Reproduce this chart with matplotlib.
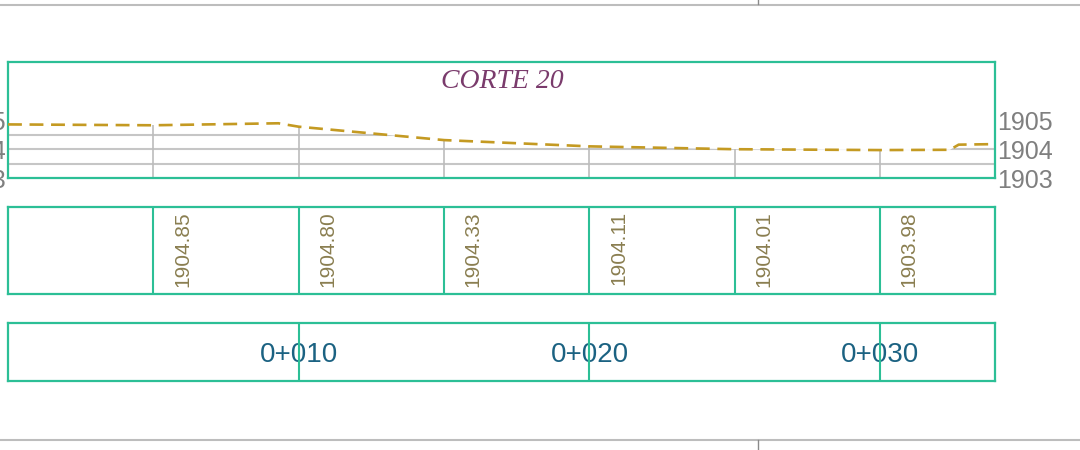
import matplotlib
matplotlib.use("Agg")
import matplotlib.pyplot as plt
import numpy as np
from matplotlib.lines import Line2D

plt.rcParams['font.family'] = ['Liberation Sans', 'DejaVu Sans']
plt.rcParams['lines.scale_dashes'] = False

# Ground profile (distance along section in m, elevation in m)
profile_x = [0.0, 5.0, 9.3, 10.0, 15.0, 20.0, 25.0, 30.0, 32.4, 32.7, 34.0]
profile_z = [1904.88, 1904.85, 1904.92, 1904.80, 1904.33, 1904.11, 1904.01, 1903.98, 1903.99, 1904.17, 1904.19]

# Stations with elevation callouts
station_x = [5, 10, 15, 20, 25, 30]
station_z = [1904.85, 1904.80, 1904.33, 1904.11, 1904.01, 1903.98]

# Chainage labels
chain_x = [10, 20, 30]
chain_labels = ["0+010", "0+020", "0+030"]

# Elevation ticks and grid
elev_ticks = [1903, 1904, 1905]
grid_levels = [1903.5, 1904.0, 1904.5]

title = "CORTE 20"

x_min, x_max = 0.0, 33.95
z_min, z_max = 1903.0, 1907.07

BOX = '#2cbf96'
GRID = '#c6c6c6'
VGRID = '#bcbcbc'
GROUND = '#c49a22'

fig = plt.figure(figsize=(10.8, 4.5), dpi=100)
W, H = 1080, 450


def box_axes(x0, y0, x1, y1):
    ax = fig.add_axes([x0 / W, 1 - y1 / H, (x1 - x0) / W, (y1 - y0) / H])
    for s in ax.spines.values():
        s.set_color(BOX)
        s.set_linewidth(1.6)
    ax.set_xlim(x_min, x_max)
    return ax


# --- profile panel ---
ax = box_axes(8, 62, 995, 178)
ax.set_ylim(z_min, z_max)
ax.set_xticks([])
ax.set_yticks(elev_ticks)
ax.set_yticklabels([str(v) for v in elev_ticks])
ax.tick_params(axis='y', length=0, labelsize=18, labelcolor='#7f7f7f',
               left=True, right=True, labelleft=True, labelright=True, pad=1.5)

ground_fill = ax.fill_between(profile_x, z_min, profile_z, color='none', lw=0)
hl = ax.hlines(grid_levels, x_min, x_max, colors=GRID, lw=1.5, zorder=1)
hl.set_clip_path(ground_fill.get_paths()[0], ax.transData)
ax.vlines(station_x, z_min, station_z, colors=VGRID, lw=1.2, zorder=1)
ax.plot(profile_x, profile_z, color=GROUND, lw=1.9, dashes=(10, 5.5), zorder=3)
ax.text(17.0, 0.83, title, transform=ax.get_xaxis_transform(), ha='center', va='center',
        fontsize=20, style='italic', family=['Liberation Serif', 'DejaVu Serif'],
        color='#7a3b6c')

# --- elevation callout panel ---
ax2 = box_axes(8, 207, 995, 294)
ax2.set_ylim(0, 1)
ax2.set_xticks([])
ax2.set_yticks([])
for x, z in zip(station_x, station_z):
    ax2.axvline(x, color=BOX, lw=1.5)
    ax2.text(x + 1.0, 0.95, f"{z:.2f}", rotation=90, ha='center', va='top',
             fontsize=15, color='#8a7e50')

# --- chainage panel ---
ax3 = box_axes(8, 323, 995, 381)
ax3.set_ylim(0, 1)
ax3.set_xticks([])
ax3.set_yticks([])
for x, lab in zip(chain_x, chain_labels):
    ax3.text(x, 0.5, lab, ha='center', va='center_baseline', fontsize=20, color='#1b6282')
    ax3.axvline(x, color=BOX, lw=1.5, zorder=4)

# --- sheet frame lines ---
def fig_line(xs, ys, color, lw):
    fig.add_artist(Line2D([x / W for x in xs], [1 - y / H for y in ys],
                          transform=fig.transFigure, color=color, lw=lw))

fig_line([0, W], [4.5, 4.5], '#bdbdbd', 1.5)
fig_line([758, 758], [0, 4], '#8a8a8a', 1.0)
fig_line([0, W], [440, 440], '#bdbdbd', 1.5)
fig_line([758, 758], [440, 450], '#8a8a8a', 1.0)

fig.savefig("out.png", dpi=100, facecolor='white')
